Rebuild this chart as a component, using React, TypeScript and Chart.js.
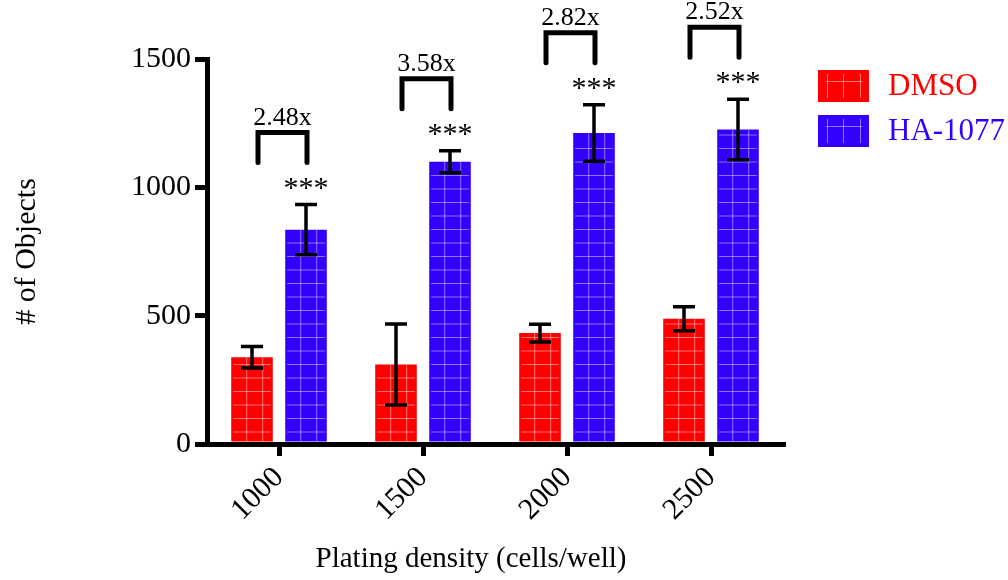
import React, { useEffect, useRef } from "react";
import { Chart, registerables } from "chart.js";

Chart.register(...registerables);

// ---- data ----
const categories = ["1000", "1500", "2000", "2500"];
const seriesNames = ["DMSO", "HA-1077"];
const dmsoValues = [338, 310, 432, 488];
const dmsoErrors = [42, 158, 35, 47];
const haValues = [835, 1100, 1212, 1225];
const haErrors = [98, 43, 110, 118];
const foldChanges = ["2.48x", "3.58x", "2.82x", "2.52x"];
const significance = ["***", "***", "***", "***"];
const yTicks = [0, 500, 1000, 1500];
const xTitle = "Plating density (cells/well)";
const yTitle = "# of Objects";

const FONT = '"Liberation Serif", "Times New Roman", Times, serif';
const RED = "#FF0000";
const BLUE = "#3300FF";

const overlayPlugin = {
  id: "overlay",
  afterDatasetsDraw(chart: any) {
    const ctx = chart.ctx;
    const yScale = chart.scales.y;
    // hatch pattern inside bars
    chart.data.datasets.forEach((ds: any, di: number) => {
      const meta = chart.getDatasetMeta(di);
      meta.data.forEach((bar: any) => {
        const { x, y, base, width } = bar.getProps(["x", "y", "base", "width"], true);
        const left = x - width / 2;
        ctx.save();
        ctx.beginPath();
        ctx.rect(left, y, width, base - y);
        ctx.clip();
        ctx.strokeStyle = "rgba(255,255,255,0.45)";
        ctx.lineWidth = 1;
        ctx.beginPath();
        for (let vx = left + 15.5; vx < left + width - 2; vx += 16) {
          ctx.moveTo(vx, y);
          ctx.lineTo(vx, base);
        }
        for (let hy = base - 9.5; hy > y + 3; hy -= 13.5) {
          ctx.moveTo(left + 2, hy);
          ctx.lineTo(left + width - 2, hy);
        }
        ctx.stroke();
        ctx.restore();
      });
    });
    // error bars
    ctx.save();
    ctx.strokeStyle = "#000";
    ctx.lineWidth = 3.5;
    chart.data.datasets.forEach((ds: any, di: number) => {
      const meta = chart.getDatasetMeta(di);
      meta.data.forEach((bar: any, i: number) => {
        const v = ds.data[i];
        const e = ds.errors[i];
        const yt = yScale.getPixelForValue(v + e);
        const yb = yScale.getPixelForValue(v - e);
        const x = bar.x;
        ctx.beginPath();
        ctx.moveTo(x, yt);
        ctx.lineTo(x, yb);
        ctx.moveTo(x - 11, yt);
        ctx.lineTo(x + 11, yt);
        ctx.moveTo(x - 11, yb);
        ctx.lineTo(x + 11, yb);
        ctx.stroke();
      });
    });
    ctx.restore();
    // annotations
    const m0 = chart.getDatasetMeta(0);
    const m1 = chart.getDatasetMeta(1);
    ctx.save();
    ctx.fillStyle = "#000";
    ctx.strokeStyle = "#000";
    categories.forEach((_, i) => {
      const xr = m0.data[i].x;
      const xb = m1.data[i].x;
      const errTop = yScale.getPixelForValue(haValues[i] + haErrors[i]);
      // stars
      ctx.font = `30px ${FONT}`;
      ctx.textAlign = "center";
      ctx.textBaseline = "alphabetic";
      ctx.fillText(significance[i], xb, errTop - 8);
      // bracket
      const bBottom = errTop - 42;
      const bTop = errTop - 72;
      const x1 = xr + 6;
      const x2 = xb + 1;
      ctx.lineWidth = 5;
      ctx.lineCap = "round";
      ctx.lineJoin = "miter";
      ctx.beginPath();
      ctx.moveTo(x1, bBottom);
      ctx.lineTo(x1, bTop);
      ctx.lineTo(x2, bTop);
      ctx.lineTo(x2, bBottom);
      ctx.stroke();
      // fold change
      ctx.font = `26px ${FONT}`;
      ctx.fillText(foldChanges[i], (x1 + x2) / 2, bTop - 8);
    });
    ctx.restore();
  },
  afterDraw(chart: any) {
    const ctx = chart.ctx;
    ctx.save();
    // x axis title
    ctx.fillStyle = "#000";
    ctx.font = `29px ${FONT}`;
    ctx.textAlign = "center";
    ctx.textBaseline = "middle";
    ctx.fillText(xTitle, 471, 559);
    // legend
    chart.data.datasets.forEach((ds: any, k: number) => {
      const bx = 818;
      const by = 70 + k * 45;
      ctx.fillStyle = ds.backgroundColor;
      ctx.fillRect(bx, by, 51, 32);
      ctx.strokeStyle = "rgba(255,255,255,0.45)";
      ctx.lineWidth = 1;
      ctx.beginPath();
      ctx.moveTo(bx + 8, by + 11.5);
      ctx.lineTo(bx + 44, by + 11.5);
      for (const dx of [9.5, 25.5, 42.5]) {
        ctx.moveTo(bx + dx, by + 4);
        ctx.lineTo(bx + dx, by + 28);
      }
      ctx.stroke();
      ctx.fillStyle = ds.backgroundColor;
      ctx.font = `31px ${FONT}`;
      ctx.textAlign = "left";
      ctx.textBaseline = "middle";
      ctx.fillText(ds.label, 888, by + 17);
    });
    ctx.restore();
  },
};

export default function App() {
  const canvasRef = useRef<HTMLCanvasElement | null>(null);

  useEffect(() => {
    if (!canvasRef.current) return;
    const axisGrid = {
      display: true,
      drawOnChartArea: false,
      drawTicks: true,
      tickLength: 12,
      lineWidth: 5,
      color: "#000",
    };
    const chart = new Chart(canvasRef.current, {
      type: "bar",
      data: {
        labels: categories,
        datasets: [
          {
            label: seriesNames[0],
            data: dmsoValues,
            errors: dmsoErrors,
            backgroundColor: RED,
            borderWidth: 0,
            categoryPercentage: 0.75,
            barPercentage: 0.77,
          } as any,
          {
            label: seriesNames[1],
            data: haValues,
            errors: haErrors,
            backgroundColor: BLUE,
            borderWidth: 0,
            categoryPercentage: 0.75,
            barPercentage: 0.77,
          } as any,
        ],
      },
      options: {
        responsive: false,
        animation: false,
        layout: { padding: { left: 0, right: 225, top: 59, bottom: 0 } },
        plugins: {
          legend: { display: false },
          tooltip: { enabled: false },
        },
        scales: {
          x: {
            type: "category",
            offset: true,
            grid: { ...axisGrid, offset: false },
            border: { display: true, width: 5, color: "#000" },
            ticks: {
              font: { family: FONT, size: 30 },
              color: "#000",
              minRotation: 45,
              maxRotation: 45,
              autoSkip: false,
              padding: 4,
            },
            afterFit: (s: any) => {
              s.height = 136;
            },
          },
          y: {
            min: 0,
            max: 1500,
            grid: axisGrid,
            border: { display: true, width: 5, color: "#000" },
            ticks: {
              font: { family: FONT, size: 30 },
              color: "#000",
              padding: 4,
              callback: (v: any) => String(v),
            },
            afterBuildTicks: (s: any) => {
              s.ticks = yTicks.map((v) => ({ value: v }));
            },
            title: {
              display: true,
              text: yTitle,
              color: "#000",
              font: { family: FONT, size: 30 },
              padding: { top: 9, bottom: 0 },
            },
            afterFit: (s: any) => {
              s.width = 207;
            },
          },
        },
      } as any,
      plugins: [overlayPlugin],
    });
    return () => chart.destroy();
  }, []);

  return (
    <div style={{ position: "absolute", left: 0, top: 0, width: 1008, height: 580, background: "#fff" }}>
      <canvas ref={canvasRef} width={1008} height={580} />
    </div>
  );
}
